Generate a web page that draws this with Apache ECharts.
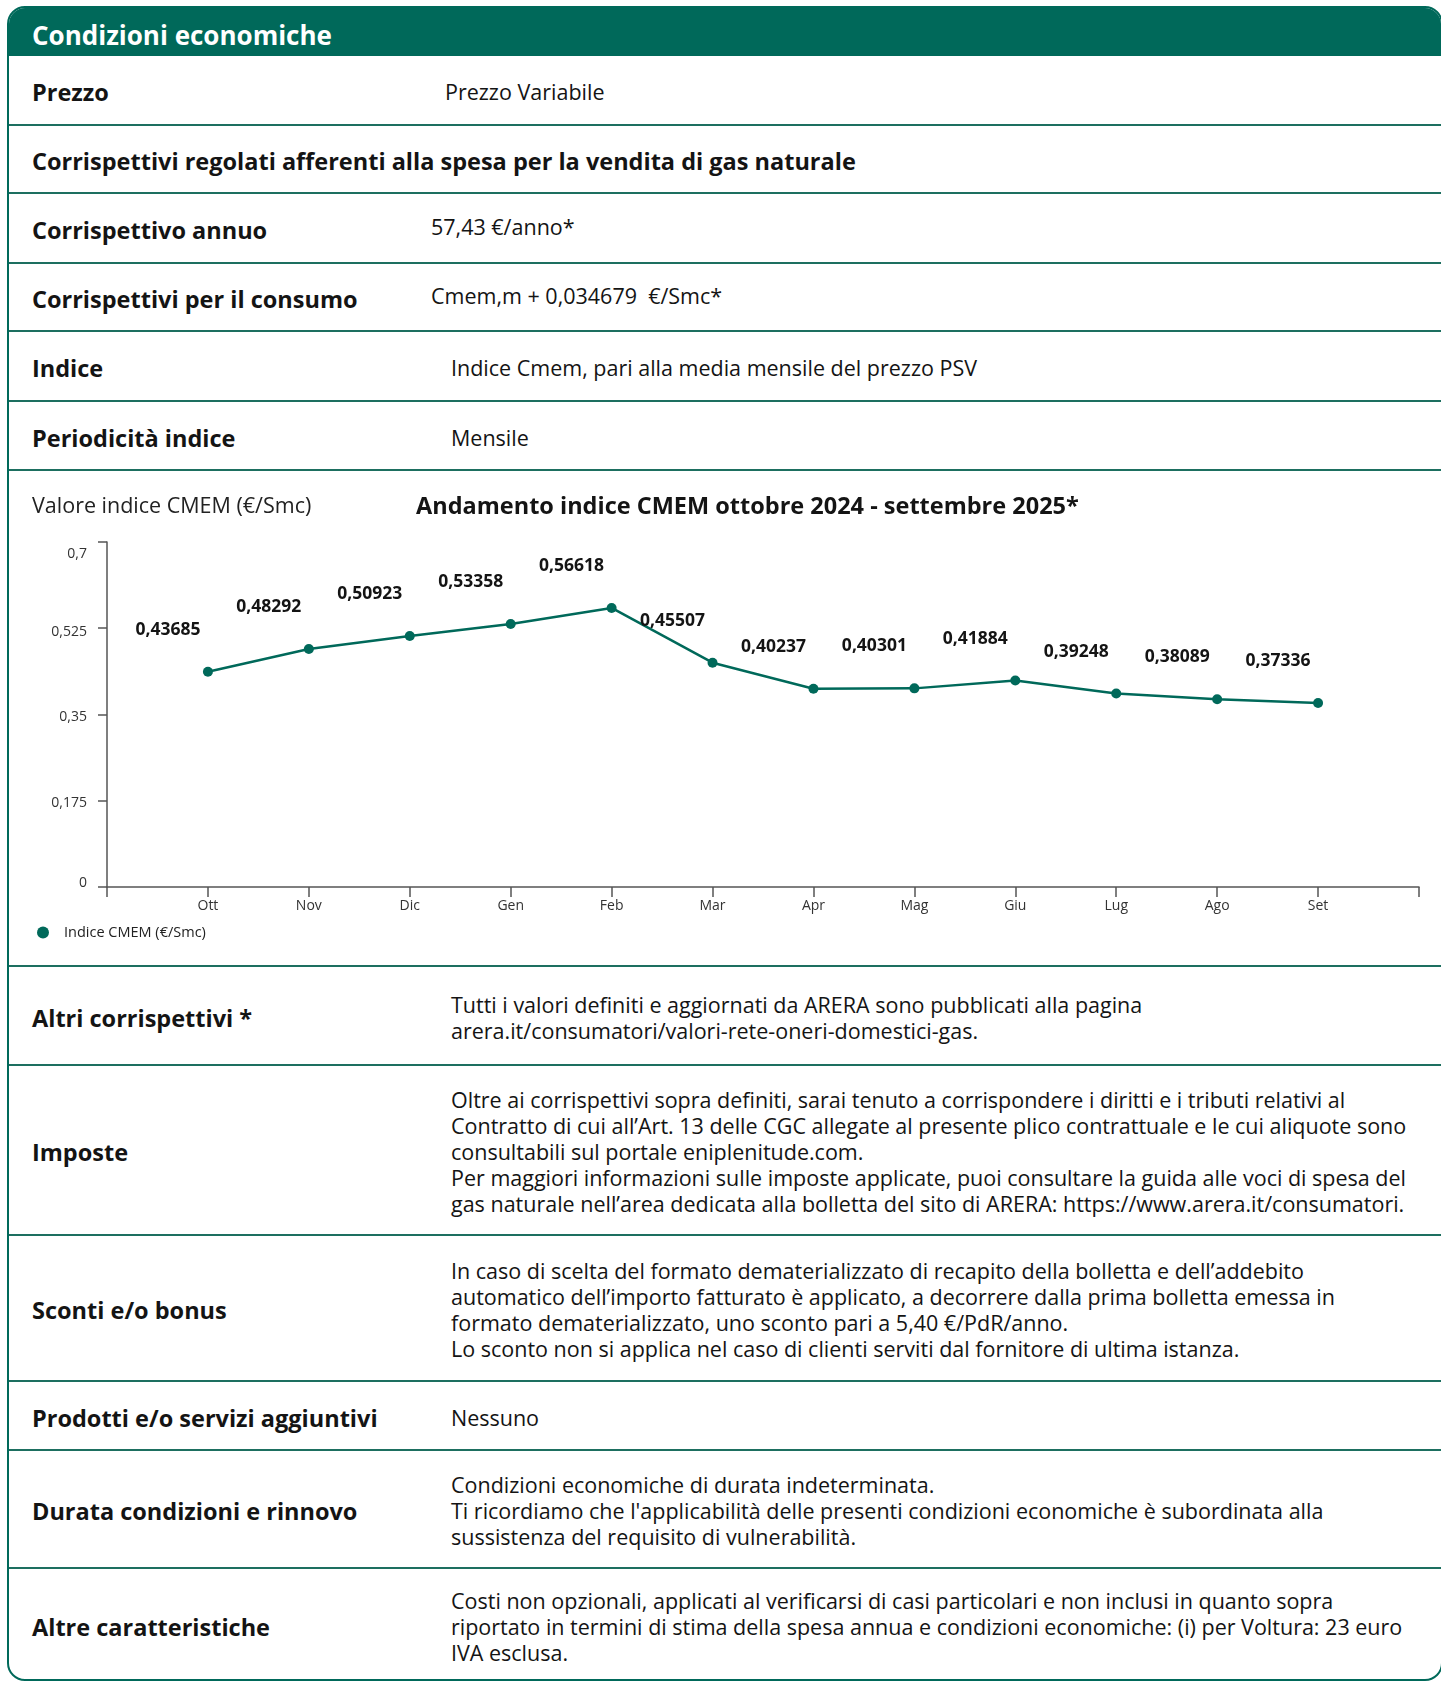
<!DOCTYPE html>
<html lang="it">
<head>
<meta charset="utf-8">
<title>Condizioni economiche</title>
<script src="https://cdn.jsdelivr.net/npm/echarts@6/dist/echarts.min.js"></script>
<style>
  html, body { margin: 0; padding: 0; background: #fff; width: 1441px; height: 1682px; overflow: hidden; }
  body { font-family: "Open Sans", "Noto Sans", sans-serif; color: #141414; position: relative; }
  .box { position: absolute; left: 7px; top: 6px; width: 1436px; height: 1675px; box-sizing: border-box;
         border: 2px solid #00695a; border-radius: 18px; overflow: hidden; background: #fff; }
  .head { height: 48px; box-sizing: border-box; padding-top: 5px; background: #00695a; color: #fff; font-weight: bold; font-size: 26px;
          display: flex; align-items: center; padding-left: 23px; }
  .row { position: relative; box-sizing: border-box; border-bottom: 2px solid #1d6f60; }
  .row.last { border-bottom: none; }
  .lab { position: absolute; left: 23px; top: 50%; transform: translateY(calc(-50% + 2px)); font-weight: bold; font-size: 23.5px; white-space: nowrap; }
  .val { position: absolute; left: 442px; top: 50%; transform: translateY(calc(-50% + 2px)); font-size: 21.5px; line-height: 26px; white-space: nowrap; }
  .val.up { transform: translateY(calc(-50% - 1px)); }
  #chart { width: 1432px; height: 494px; }
</style>
</head>
<body>
<div class="box">
  <div class="head">Condizioni economiche</div>
  <div class="row" style="height:70px"><div class="lab">Prezzo</div><div class="val" style="left:436px">Prezzo Variabile</div></div>
  <div class="row" style="height:68px"><div class="lab">Corrispettivi regolati afferenti alla spesa per la vendita di gas naturale</div></div>
  <div class="row" style="height:70px"><div class="lab">Corrispettivo annuo</div><div class="val up" style="left:422px">57,43 €/anno*</div></div>
  <div class="row" style="height:68px"><div class="lab">Corrispettivi per il consumo</div><div class="val up" style="left:422px">Cmem,m + 0,034679&nbsp;&nbsp;€/Smc*</div></div>
  <div class="row" style="height:70px"><div class="lab">Indice</div><div class="val">Indice Cmem, pari alla media mensile del prezzo PSV</div></div>
  <div class="row" style="height:69px"><div class="lab">Periodicità indice</div><div class="val">Mensile</div></div>
  <div class="row" style="height:496px"><div id="chart"></div></div>
  <div class="row" style="height:99px"><div class="lab">Altri corrispettivi *</div>
    <div class="val">Tutti i valori definiti e aggiornati da ARERA sono pubblicati alla pagina<br>arera.it/consumatori/valori-rete-oneri-domestici-gas.</div></div>
  <div class="row" style="height:170px"><div class="lab">Imposte</div>
    <div class="val">Oltre ai corrispettivi sopra definiti, sarai tenuto a corrispondere i diritti e i tributi relativi al<br>Contratto di cui all’Art. 13 delle CGC allegate al presente plico contrattuale e le cui aliquote sono<br>consultabili sul portale eniplenitude.com.<br>Per maggiori informazioni sulle imposte applicate, puoi consultare la guida alle voci di spesa del<br>gas naturale nell’area dedicata alla bolletta del sito di ARERA: https://www.arera.it/consumatori.</div></div>
  <div class="row" style="height:146px"><div class="lab">Sconti e/o bonus</div>
    <div class="val">In caso di scelta del formato dematerializzato di recapito della bolletta e dell’addebito<br>automatico dell’importo fatturato è applicato, a decorrere dalla prima bolletta emessa in<br>formato dematerializzato, uno sconto pari a 5,40 €/PdR/anno.<br>Lo sconto non si applica nel caso di clienti serviti dal fornitore di ultima istanza.</div></div>
  <div class="row" style="height:69px"><div class="lab">Prodotti e/o servizi aggiuntivi</div><div class="val">Nessuno</div></div>
  <div class="row" style="height:118px"><div class="lab">Durata condizioni e rinnovo</div>
    <div class="val">Condizioni economiche di durata indeterminata.<br>Ti ricordiamo che l'applicabilità delle presenti condizioni economiche è subordinata alla<br>sussistenza del requisito di vulnerabilità.</div></div>
  <div class="row last" style="height:112px"><div class="lab">Altre caratteristiche</div>
    <div class="val">Costi non opzionali, applicati al verificarsi di casi particolari e non inclusi in quanto sopra<br>riportato in termini di stima della spesa annua e condizioni economiche: (i) per Voltura: 23 euro<br>IVA esclusa.</div></div>
</div>
<script>
const months = ['Ott', 'Nov', 'Dic', 'Gen', 'Feb', 'Mar', 'Apr', 'Mag', 'Giu', 'Lug', 'Ago', 'Set'];
const cmem = [0.43685, 0.48292, 0.50923, 0.53358, 0.56618, 0.45507, 0.40237, 0.40301, 0.41884, 0.39248, 0.38089, 0.37336];
const yMin = 0;
const yMax = 0.7;
const yStep = 0.175;
const seriesName = 'Indice CMEM (€/Smc)';
const yAxisTitle = 'Valore indice CMEM (€/Smc)';
const chartTitle = 'Andamento indice CMEM ottobre 2024 - settembre 2025*';

const green = '#00695a';
const font = '"Open Sans", "Noto Sans", sans-serif';
const comma = (v) => String(v).replace('.', ',');

// empty slot at each end so the months sit one step in from the axis ends
const xData = [''].concat(months, ['']);
const yData = [null].concat(cmem, [null]);

// the source nudges its y labels a little off their ticks (px, + is down)
const yLabelShift = [-4, 2, 3, 4, 12];
const yRich = {};
yLabelShift.forEach((d, i) => {
  yRich['t' + i] = {
    fontFamily: font, fontSize: 14, color: '#333',
    padding: d > 0 ? [2 * d, 0, 0, 0] : [0, 0, -2 * d, 0]
  };
});

const chart = echarts.init(document.getElementById('chart'));
chart.setOption({
  animation: false,
  textStyle: { fontFamily: font },
  title: [
    {
      text: yAxisTitle, left: 23, top: 22, padding: 0,
      textStyle: { fontFamily: font, fontSize: 21.5, fontWeight: 'normal', color: '#222', lineHeight: 28 }
    },
    {
      text: chartTitle, left: 407, top: 22, padding: 0,
      textStyle: { fontFamily: font, fontSize: 23.5, fontWeight: 'bold', color: '#141414', lineHeight: 28 }
    }
  ],
  legend: {
    data: [seriesName],
    left: 23, top: 449,
    icon: 'circle', itemWidth: 12, itemHeight: 12,
    textStyle: { fontFamily: font, fontSize: 14.5, color: '#222', padding: [0, 0, 0, 10] }
  },
  grid: { left: 98, right: 22, top: 71, bottom: 78, containLabel: false },
  xAxis: {
    type: 'category',
    data: xData,
    boundaryGap: false,
    axisLine: { lineStyle: { color: '#555', width: 1.5 } },
    axisTick: { show: true, interval: 0, length: 10, lineStyle: { color: '#555', width: 1.5 } },
    axisLabel: { interval: 0, margin: 12, fontSize: 14, color: '#333', fontFamily: font }
  },
  yAxis: {
    type: 'value',
    min: yMin, max: yMax, interval: yStep,
    splitLine: { show: false },
    axisLine: { show: true, lineStyle: { color: '#555', width: 1.5 } },
    axisTick: { show: true, length: 9, lineStyle: { color: '#555', width: 1.5 } },
    axisLabel: {
      margin: 20, fontSize: 14, color: '#333', fontFamily: font,
      formatter: (v, i) => '{t' + i + '|' + comma(v) + '}',
      rich: yRich
    }
  },
  series: [{
    name: seriesName,
    type: 'line',
    data: yData,
    connectNulls: false,
    symbol: 'circle',
    symbolSize: 10,
    itemStyle: { color: green },
    lineStyle: { color: green, width: 2.5 },
    label: {
      show: true,
      position: 'top',
      offset: [-40, -23],
      fontFamily: font,
      fontSize: 17.5,
      fontWeight: 'bold',
      color: '#141414',
      formatter: (p) => p.value == null ? '' : p.value.toFixed(5).replace('.', ',')
    }
  }]
});
</script>
</body>
</html>
